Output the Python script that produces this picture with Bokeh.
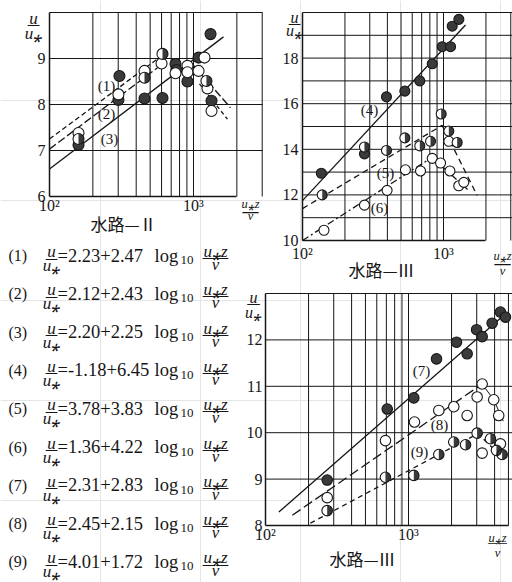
import math
from bokeh.plotting import figure
from bokeh.models import (Label, FixedTicker, Range1d, LogScale, LinearScale,
                          LogAxis, LinearAxis)
from bokeh.embed import file_html
from bokeh.resources import INLINE

# ------------------------------------------------------------------ data
# Panel 1 : 水路—Ⅱ
ch2_full_x = [159, 301, 306, 457, 609, 750, 762, 908, 1084, 1313, 1334]
ch2_full_y = [7.12, 8.10, 8.62, 8.13, 8.14, 8.88, 8.75, 8.50, 9.02, 9.53, 8.08]
ch2_half_x = [159, 457, 609, 1230]
ch2_half_y = [7.25, 8.58, 9.10, 8.51]
ch2_open_x = [159, 301, 457, 600, 750, 908, 908, 1084, 1192, 1250, 1334]
ch2_open_y = [7.38, 8.22, 8.73, 8.89, 8.68, 8.84, 8.70, 8.73, 9.02, 8.35, 7.86]
ch2_fit1_x = [100, 640]
ch2_fit1_y = [7.25, 9.12]
ch2_fit2_x = [100, 620]
ch2_fit2_y = [7.03, 8.90]
ch2_fit3_x = [100, 1615]
ch2_fit3_y = [6.60, 9.47]
ch2_drop1_x = [1000, 1807]
ch2_drop1_y = [8.85, 7.93]
ch2_drop2_x = [1100, 1722]
ch2_drop2_y = [8.45, 7.68]

# Panel 2 : 水路—Ⅲ (upper right)
ch3a_full_x = [136, 275, 394, 532, 679, 832, 979, 1122, 1153, 1285]
ch3a_full_y = [12.95, 13.80, 16.30, 16.55, 17.00, 17.75, 18.50, 18.50, 19.40, 19.70]
ch3a_half_x = [138, 275, 394, 532, 679, 809, 963, 1091, 1250]
ch3a_half_y = [12.00, 14.10, 13.95, 14.50, 14.15, 14.35, 15.55, 14.80, 14.30]
ch3a_open_x = [142, 275, 398, 537, 687, 832, 953, 1110, 1091, 1283, 1393]
ch3a_open_y = [10.45, 11.55, 12.20, 13.10, 13.05, 13.60, 13.40, 13.05, 14.35, 12.40, 12.55]
ch3a_fit4_x = [100, 1432]
ch3a_fit4_y = [11.75, 19.45]
ch3a_fit5_x = [100, 978, 1734]
ch3a_fit5_y = [11.40, 15.05, 11.97]
ch3a_fit6_x = [100, 832, 1503]
ch3a_fit6_y = [10.00, 13.65, 12.20]

# Panel 3 : 水路—Ⅲ (lower right)
ch3b_full_x = [270, 710, 1089, 1570, 2167, 2571, 2993, 3274, 3846, 4394, 4763]
ch3b_full_y = [8.98, 10.51, 10.75, 11.59, 11.95, 11.70, 12.22, 12.07, 12.36, 12.60, 12.49]
ch3b_open_x = [270, 690, 1101, 1629, 2073, 2571, 3020, 3274, 3945, 4275, 3274, 4394]
ch3b_open_y = [8.60, 9.83, 10.23, 10.48, 10.56, 10.37, 10.77, 11.05, 10.71, 10.37, 9.56, 9.76]
ch3b_half_x = [270, 690, 1089, 1629, 2073, 2506, 3020, 3741, 4121, 4517]
ch3b_half_y = [8.32, 9.04, 9.08, 9.53, 9.80, 9.74, 9.99, 9.87, 9.62, 9.53]
ch3b_fit7_x = [124, 4645]
ch3b_fit7_y = [8.29, 12.53]
ch3b_fit8_x = [154, 3274]
ch3b_fit8_y = [8.22, 11.05]
ch3b_fit8b_x = [3274, 3945, 4600]
ch3b_fit8b_y = [11.05, 10.71, 10.25]
ch3b_fit9_x = [206, 3055, 4645]
ch3b_fit9_y = [8.05, 9.98, 9.44]

# tick / grid values
x_tick_values = [100, 1000]
x_tick_labels = {100: "10²", 1000: "10³"}
x_grid_a = [200, 300, 400, 500, 600, 700, 800, 900, 1000, 2000, 3000]
x_grid_b = [200, 300, 400, 500, 600, 700, 800, 900, 1000, 2000, 3000, 4000, 5000]
p1_yticks = [6, 7, 8, 9]
p1_ygrid = [7, 8, 9, 10]
p2_yticks = [10, 12, 14, 16, 18]
p2_ygrid = [11, 12, 13, 14, 15, 16, 17, 18, 19, 20]
p3_yticks = [8, 9, 10, 11, 12]
p3_ygrid = [9, 10, 11, 12, 13]

# equation constants  u/u* = a + b log10(u*z/nu)
eq_const = [2.23, 2.12, 2.20, -1.18, 3.78, 1.36, 2.31, 2.45, 4.01]
eq_slope = [2.47, 2.43, 2.25, 6.45, 3.83, 4.22, 2.83, 2.15, 1.72]

# ------------------------------------------------------------------ style
INK = "#161616"
DARK = "#3a3a3a"
SERIF = "Liberation Serif"
CJK = "Noto Sans CJK JP"
W, H = 512, 582

# one canvas; the default ranges are the page's pixel grid (for texts only)
p = figure(width=W, height=H, x_range=Range1d(0, W), y_range=Range1d(H, 0),
           toolbar_location=None, output_backend="svg", title=None,
           x_axis_location=None, y_axis_location=None,
           min_border_left=0, min_border_right=0, min_border_top=0,
           min_border_bottom=0)
p.outline_line_color = None
p.background_fill_color = "white"
p.border_fill_color = "white"

x_ranges, y_ranges, x_scales, y_scales = {}, {}, {}, {}


def panel(name, FL, D, FB, PPU, y_lo, y_hi, x_right_px, x_axis_end,
          xgrid, ygrid, yticks, xs, ys):
    """Panel whose log x-axis puts 10^2 at page x=FL with D px per decade,
    and whose y-axis puts y_lo at page y=FB with PPU px per unit."""
    xn, yn = name + "x", name + "y"
    x_ranges[xn] = Range1d(10 ** (2 - FL / D), 10 ** (2 + (W - FL) / D))
    y_ranges[yn] = Range1d(y_lo - (H - FB) / PPU, y_lo + FB / PPU)
    x_scales[xn] = LogScale()
    y_scales[yn] = LinearScale()
    kw = dict(x_range_name=xn, y_range_name=yn)
    x_right = 10 ** (2 + (x_right_px - FL) / D)
    # grid
    p.segment(x0=xgrid, y0=[y_lo] * len(xgrid), x1=xgrid,
              y1=[y_hi] * len(xgrid), line_color=INK, line_width=1.0, **kw)
    p.segment(x0=[100] * len(ygrid), y0=ygrid, x1=[x_right] * len(ygrid),
              y1=ygrid, line_color=INK, line_width=1.0, **kw)
    # axes
    xa = LogAxis(fixed_location=y_lo, bounds=(100, x_axis_end),
                 ticker=FixedTicker(ticks=x_tick_values),
                 major_label_overrides=x_tick_labels,
                 major_label_standoff=xs, **kw)
    ya = LinearAxis(fixed_location=100, bounds=(y_lo, y_hi),
                    ticker=FixedTicker(ticks=yticks),
                    major_label_standoff=ys, **kw)
    for ax in (xa, ya):
        ax.axis_line_color = INK
        ax.axis_line_width = 1.5
        ax.major_tick_line_color = None
        ax.minor_tick_line_color = None
        ax.major_tick_in = 0
        ax.major_tick_out = 0
        ax.minor_tick_in = 0
        ax.minor_tick_out = 0
        ax.major_label_text_font = SERIF
        ax.major_label_text_font_size = "16px"
        ax.major_label_text_color = INK
    p.add_layout(xa, "below")
    p.add_layout(ya, "left")
    return kw


def put(X, Y, text, size, font=SERIF, style="normal", align="left",
        baseline="alphabetic"):
    p.add_layout(Label(x=X, y=Y, text=text, text_font=font,
                       text_font_size=f"{size}px", text_font_style=style,
                       text_align=align, text_baseline=baseline, text_color=INK))


def frac(cx, top_base, bar_y, bot_base, top, bottom, size, barw):
    put(cx, top_base, top, size, style="italic", align="center")
    n = max(1, round(barw / 13))
    fs = round(barw / n, 1)
    put(cx, bar_y + 0.274 * fs, "—" * n, fs, font="DejaVu Sans", align="center")
    put(cx, bot_base, bottom, size, style="italic", align="center")


def points(kw, xs, ys, kind, size):
    if kind == "full":
        p.scatter(xs, ys, size=size, marker="circle", fill_color=DARK,
                  line_color=INK, line_width=1.1, **kw)
    elif kind == "open":
        p.scatter(xs, ys, size=size, marker="circle", fill_color="white",
                  line_color=INK, line_width=1.1, **kw)
    else:
        p.scatter(xs, ys, size=size, marker="circle", fill_color="white",
                  line_color=None, **kw)
        p.wedge(xs, ys, radius=size / 2, radius_units="screen",
                start_angle=-math.pi / 2, end_angle=math.pi / 2,
                fill_color=DARK, line_color=None, **kw)
        p.scatter(xs, ys, size=size, marker="circle", fill_color=None,
                  line_color=INK, line_width=1.1, **kw)


def fit(kw, xs, ys, dash="solid", w=1.3):
    p.line(xs, ys, line_color=INK, line_width=w, line_dash=dash, **kw)


# ------------------------------------------------------------------ panel 1
k1 = panel("p1", 49, 144, 196, 46, 6, 10, 262, 2000, x_grid_a, p1_ygrid,
           p1_yticks, 0, 4)
fit(k1, ch2_fit1_x, ch2_fit1_y, "5 3")
fit(k1, ch2_fit2_x, ch2_fit2_y, "8 3")
fit(k1, ch2_fit3_x, ch2_fit3_y)
fit(k1, ch2_drop1_x, ch2_drop1_y, "8 3")
fit(k1, ch2_drop2_x, ch2_drop2_y, "4 3")
points(k1, ch2_full_x, ch2_full_y, "full", 11)
points(k1, ch2_open_x, ch2_open_y, "open", 11)
points(k1, ch2_half_x, ch2_half_y, "half", 11)
frac(33, 18, 20, 33, "u", "u⁎", 17, 13)
frac(250, 203, 205, 215, "u⁎z", "ν", 12.5, 18)
put(123, 223, "水路—Ⅱ", 17, font=CJK, align="center", baseline="middle")
for t, X, Y in (("(1)", 106, 85), ("(2)", 106, 113), ("(3)", 109, 138)):
    put(X, Y, t, 15, align="center", baseline="middle")

# ------------------------------------------------------------------ panel 2
k2 = panel("p2", 302, 141, 240, 22.8, 10, 20, 512, 2000, x_grid_a, p2_ygrid,
           p2_yticks, 4, 4)
fit(k2, ch3a_fit4_x, ch3a_fit4_y)
fit(k2, ch3a_fit5_x, ch3a_fit5_y, "6 4")
fit(k2, ch3a_fit6_x, ch3a_fit6_y, "7 3 2 3")
points(k2, ch3a_full_x, ch3a_full_y, "full", 10)
points(k2, ch3a_open_x, ch3a_open_y, "open", 10)
points(k2, ch3a_half_x, ch3a_half_y, "half", 10)
frac(294, 17, 19, 29.5, "u", "u⁎", 16, 13)
frac(502, 255, 257, 270, "u⁎z", "ν", 12.5, 18)
put(381, 269, "水路—Ⅲ", 17, font=CJK, align="center", baseline="middle")
for t, X, Y in (("(4)", 369, 109), ("(5)", 385, 172), ("(6)", 379, 207)):
    put(X, Y, t, 15, align="center", baseline="middle")

# ------------------------------------------------------------------ panel 3
k3 = panel("p3", 265, 143, 525, 46.4, 8, 13, 512, 5000, x_grid_b, p3_ygrid,
           p3_yticks, 0, 3)
fit(k3, ch3b_fit7_x, ch3b_fit7_y)
fit(k3, ch3b_fit8_x, ch3b_fit8_y, "10 4")
fit(k3, ch3b_fit8b_x, ch3b_fit8b_y, "solid", 1.0)
fit(k3, ch3b_fit9_x, ch3b_fit9_y, "5 4")
points(k3, ch3b_full_x, ch3b_full_y, "full", 10.5)
points(k3, ch3b_open_x, ch3b_open_y, "open", 10.5)
points(k3, ch3b_half_x, ch3b_half_y, "half", 10.5)
frac(253, 297, 299, 312, "u", "u⁎", 16, 14)
frac(497, 537, 539, 552, "u⁎z", "ν", 12.5, 20)
put(362, 558, "水路—Ⅲ", 17, font=CJK, align="center", baseline="middle")
for t, X, Y in (("(7)", 421, 370), ("(8)", 439, 424), ("(9)", 419, 451)):
    put(X, Y, t, 15, align="center", baseline="middle")

p.extra_x_ranges = x_ranges
p.extra_y_ranges = y_ranges
p.extra_x_scales = x_scales
p.extra_y_scales = y_scales

# ------------------------------------------------------------------ equations
for i, (a, b) in enumerate(zip(eq_const, eq_slope)):
    yb = 254 + 38.3 * i
    put(8, yb + 1, f"({i + 1})", 16)
    frac(51, yb - 3, yb, yb + 11, "u", "u⁎", 17, 13)
    put(57, yb + 1, f"={a:.2f}+{b:.2f}", 18.5)
    put(154, yb + 1, "log", 18.5)
    put(180, yb + 5.5, "10", 13)
    frac(215, yb - 3, yb - 1, yb + 10, "u⁎z", "ν", 17, 27)

open("out.html", "w").write(file_html(p, INLINE, title="velocity profiles"))
